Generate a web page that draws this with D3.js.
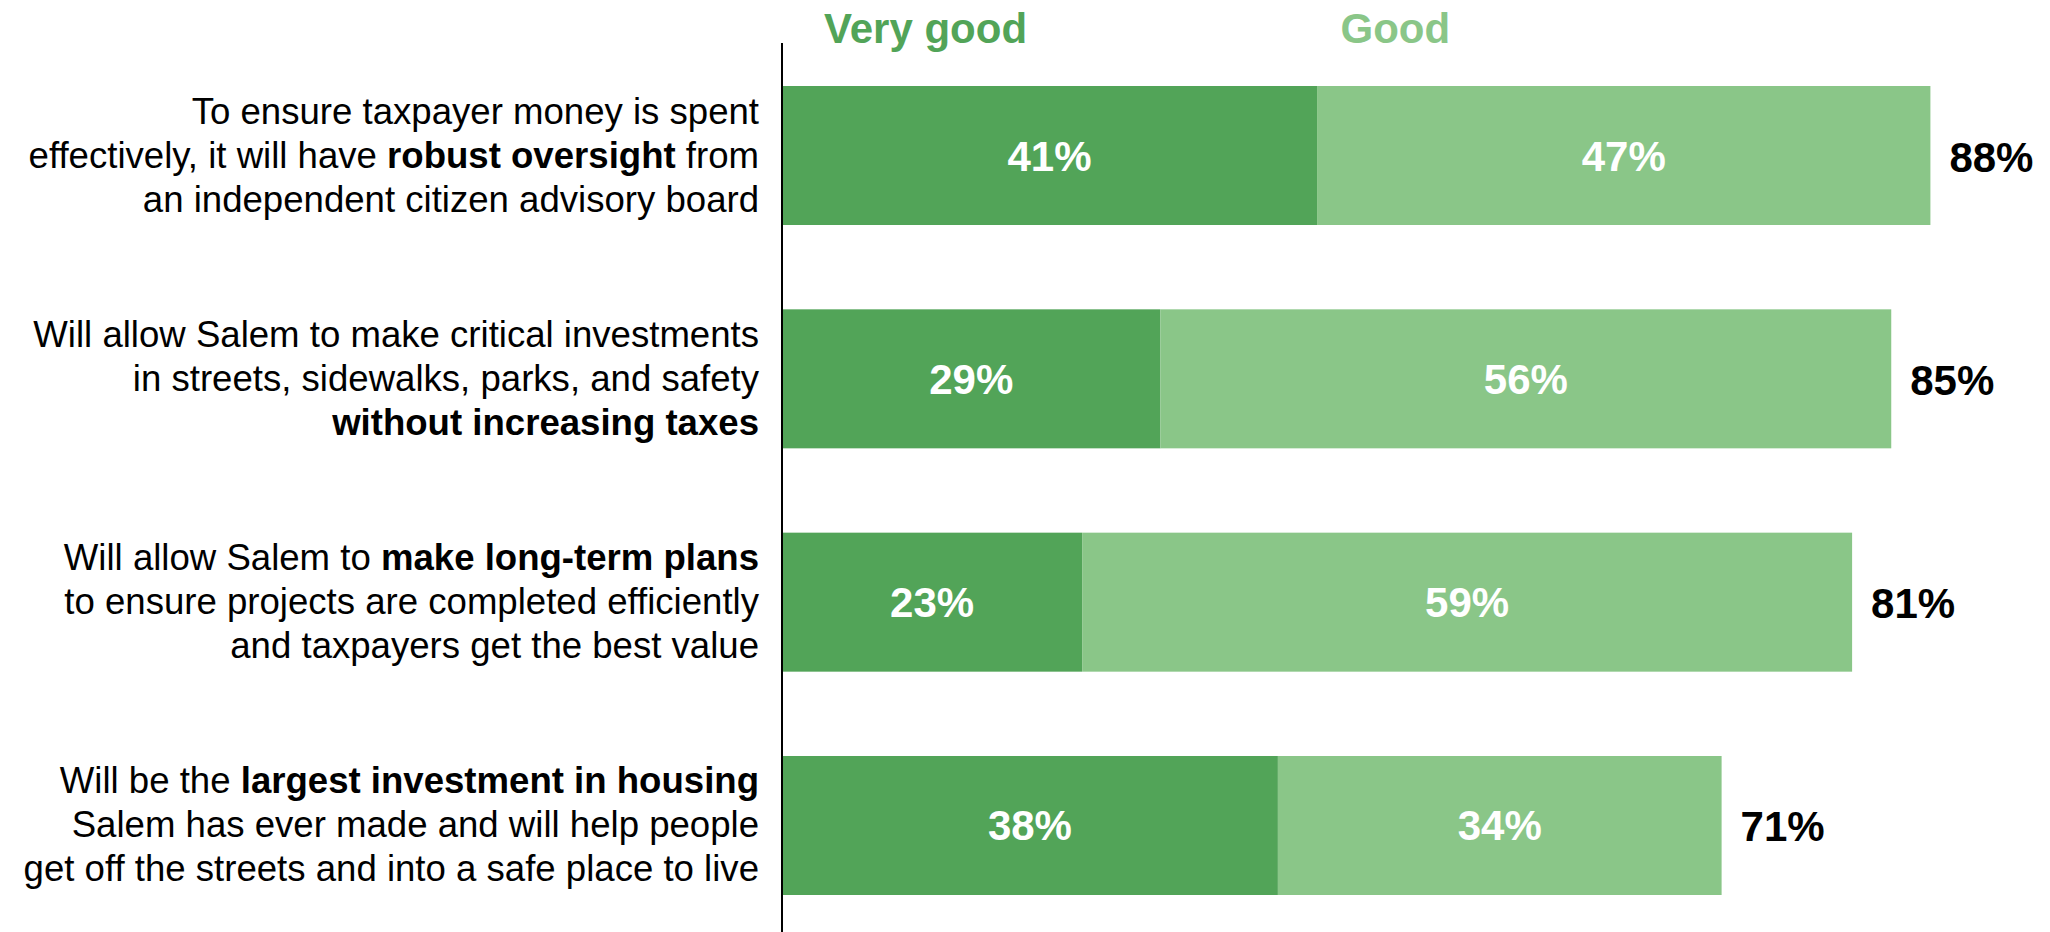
<!DOCTYPE html>
<html>
<head>
<meta charset="utf-8">
<script src="https://cdn.jsdelivr.net/npm/d3@7"></script>
<style>
  html, body { margin: 0; padding: 0; background: #fff; }
  svg { display: block; font-family: "Liberation Sans", Arial, Helvetica, sans-serif; }
</style>
</head>
<body>
<svg id="chart" width="2050" height="932"></svg>
<script>
// Statements (lines; **text** marks bold runs)
const statements = [
  ["To ensure taxpayer money is spent",
   "effectively, it will have **robust oversight** from",
   "an independent citizen advisory board"],
  ["Will allow Salem to make critical investments",
   "in streets, sidewalks, parks, and safety",
   "**without increasing taxes**"],
  ["Will allow Salem to **make long-term plans**",
   "to ensure projects are completed efficiently",
   "and taxpayers get the best value"],
  ["Will be the **largest investment in housing**",
   "Salem has ever made and will help people",
   "get off the streets and into a safe place to live"]
];

const seriesNames = ["Very good", "Good"];
const veryGood = [41, 29, 23, 38];
const good     = [47, 56, 59, 34];
const totals   = [88, 85, 81, 71];

const colors = ["#52a458", "#8ac688"];

const svg = d3.select("#chart");
const W = 2050, H = 932;
const axisX = 782;

const ids = statements.map((d, i) => i);

const x = d3.scaleLinear().domain([0, 100]).range([axisX, axisX + 1305]);
const y = d3.scaleBand().domain(ids).range([86, 895]).paddingInner(0.3776).paddingOuter(0);

const stackData = ids.map(i => ({ id: i, vg: veryGood[i], g: good[i] }));
const stacked = d3.stack().keys(["vg", "g"])(stackData);

// Stacked bars
const layers = svg.append("g").selectAll("g")
  .data(stacked)
  .join("g")
  .attr("fill", (d, k) => colors[k]);

layers.selectAll("rect")
  .data(d => d)
  .join("rect")
  .attr("x", d => x(d[0]))
  .attr("y", d => y(d.data.id))
  .attr("width", d => x(d[1]) - x(d[0]))
  .attr("height", y.bandwidth());

// Segment value labels
layers.selectAll("text")
  .data(d => d)
  .join("text")
  .attr("x", d => (x(d[0]) + x(d[1])) / 2)
  .attr("y", d => y(d.data.id) + y.bandwidth() / 2 + 15)
  .attr("text-anchor", "middle")
  .attr("fill", "#ffffff")
  .attr("font-weight", "bold")
  .attr("font-size", 42)
  .text(d => `${d[1] - d[0]}%`);

// Totals to the right of each bar
svg.append("g").selectAll("text")
  .data(ids)
  .join("text")
  .attr("x", i => x(veryGood[i] + good[i]) + 19)
  .attr("y", i => y(i) + y.bandwidth() / 2 + 16)
  .attr("fill", "#000")
  .attr("font-weight", "bold")
  .attr("font-size", 42)
  .text(i => `${totals[i]}%`);

// Statement labels, right-aligned against the axis
const lineH = 44;
const labelG = svg.append("g");
ids.forEach(i => {
  const lines = statements[i];
  const cy = y(i) + y.bandwidth() / 2;
  const t = labelG.append("text")
    .attr("text-anchor", "end")
    .attr("font-size", 36.6)
    .attr("fill", "#000");
  lines.forEach((line, li) => {
    const baseY = cy + 12 + (li - (lines.length - 1) / 2) * lineH;
    const parts = line.split("**");
    parts.forEach((p, pi) => {
      if (!p.length) return;
      const ts = t.append("tspan").text(p)
        .attr("font-weight", pi % 2 === 1 ? "bold" : "normal");
      if (pi === 0 || (pi === 1 && parts[0] === "")) {
        ts.attr("x", axisX - 23).attr("y", baseY);
      }
    });
  });
});

// Legend above the bars
const legendPos = [11, 47];
svg.append("g").selectAll("text")
  .data(seriesNames)
  .join("text")
  .attr("x", (d, k) => x(legendPos[k]))
  .attr("y", 43)
  .attr("text-anchor", "middle")
  .attr("fill", (d, k) => colors[k])
  .attr("font-weight", "bold")
  .attr("font-size", 42)
  .text(d => d);

// Vertical baseline axis
svg.append("line")
  .attr("x1", axisX).attr("x2", axisX)
  .attr("y1", 43).attr("y2", H)
  .attr("stroke", "#000")
  .attr("stroke-width", 2);
</script>
</body>
</html>
